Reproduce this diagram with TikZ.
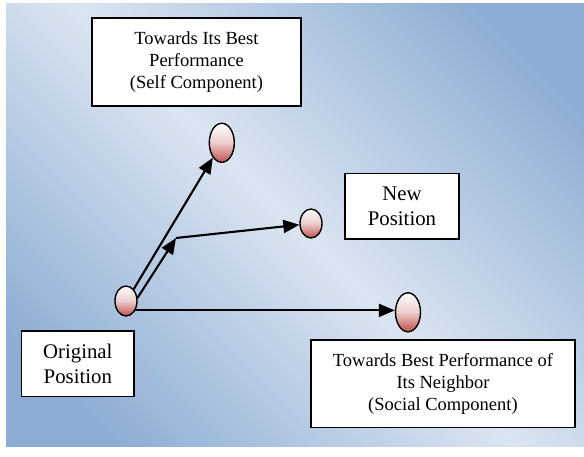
\documentclass[tikz,border=0pt]{standalone}
\usepackage{fontspec}
\setmainfont{Liberation Serif}
\usetikzlibrary{shapes.geometric,arrows.meta}
\definecolor{bgdark}{RGB}{140,172,212}
\definecolor{bglight}{RGB}{219,229,241}
\definecolor{ballred}{RGB}{192,80,77}
\definecolor{ballmid}{RGB}{236,205,204}
\begin{document}
\begin{tikzpicture}[x=1pt,y=-1pt,
  textbox/.style={draw=black, line width=1.4pt, fill=white, inner sep=0pt, align=center, text=black},
  bigtext/.style={font=\fontsize{18.5}{22}\selectfont},
  hugetext/.style={font=\fontsize{20.8}{24.6}\selectfont},
  ball/.style={ellipse, draw=black, line width=1.4pt, inner sep=0pt, top color=white, bottom color=ballred, middle color=ballmid},
  arr/.style={line width=2.1pt, -{Triangle[length=16pt,width=13pt]}}]
\useasboundingbox (0,0) rectangle (584,457);
\begin{scope}
  \clip (6,3.5) rectangle (584,446);
  \shade[left color=bgdark, right color=bgdark, middle color=bglight, shading angle=-45] (6,-64.25) rectangle (584,513.75);
\end{scope}

\node[textbox,bigtext,minimum width=209pt,minimum height=88pt] (self) at (196.5,62) {Towards Its Best\\Performance\\(Self Component)};
\node[textbox,hugetext,minimum width=114pt,minimum height=65.7pt] (newbox) at (402,206.2) {New\\Position};
\node[textbox,hugetext,minimum width=112.3pt,minimum height=65.7pt] (origbox) at (77.8,363.8) {Original\\Position};
\node[textbox,bigtext,minimum width=264pt,minimum height=87.7pt] (social) at (443,383.8) {Towards Best Performance of\\Its Neighbor\\(Social Component)};

\node[ball,minimum width=25pt,minimum height=39pt] (pbest) at (221.8,142.8) {};
\node[ball,minimum width=22pt,minimum height=29pt] (pnew) at (311,223.5) {};
\node[ball,minimum width=25pt,minimum height=39pt] (gbest) at (408,312.3) {};
\node[ball,minimum width=22pt,minimum height=30pt] (porig) at (126,301) {};

\coordinate (kink) at (176,238);
\draw[arr] (porig.57) -- (pbest);
\draw[arr] (porig.15) -- (kink);
\draw[arr] (kink) -- (pnew);
\draw[arr] (porig.-45) -- (porig.-45 -| gbest.west);
\end{tikzpicture}
\end{document}
